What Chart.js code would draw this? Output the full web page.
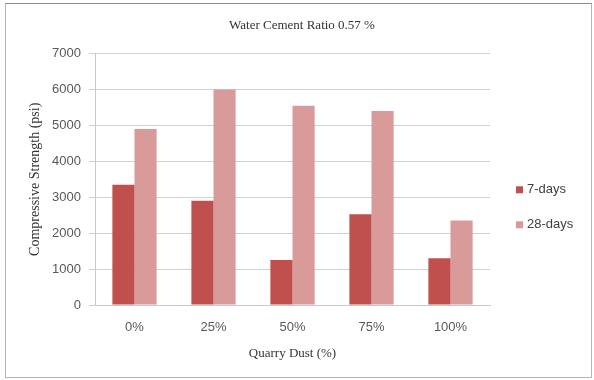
<!DOCTYPE html>
<html>
<head>
<meta charset="utf-8">
<script src="https://cdn.jsdelivr.net/npm/chart.js@4/dist/chart.umd.min.js"></script>
<style>
  html, body { margin: 0; padding: 0; background: #ffffff; }
  #wrap { position: relative; width: 594px; height: 380px; }
  #frame {
    position: absolute; left: 5px; top: 3px; width: 587px; height: 375px;
    border: 1px solid #b4b4b4; border-top-color: #8c8c8c; box-sizing: border-box;
    pointer-events: none;
  }
  canvas { position: absolute; left: 0; top: 0; }
</style>
</head>
<body>
<div id="wrap">
  <canvas id="c" width="594" height="380"></canvas>
  <div id="frame"></div>
</div>
<script>
// Compressive strength of concrete vs. quarry dust replacement (w/c = 0.57)
const categories = ['0%', '25%', '50%', '75%', '100%'];
const sevenDays = [3350, 2900, 1250, 2530, 1300];
const twentyEightDays = [4900, 6000, 5550, 5400, 2350];
const seriesNames = ['7-days', '28-days'];
const yTicks = [0, 1000, 2000, 3000, 4000, 5000, 6000, 7000];

const tickFont = { family: '"Liberation Sans", Arial, sans-serif', size: 13 };
const serifFont = { family: '"Liberation Serif", "Times New Roman", serif', size: 13 };

// Legend drawn to the right of the plot area
const sideLegend = {
  id: 'sideLegend',
  afterDraw(chart) {
    const { ctx, chartArea } = chart;
    const x = chartArea.right + 26;
    const mid = (chartArea.top + chartArea.bottom) / 2 + 28;
    const gap = 35;
    chart.data.datasets.forEach((ds, i) => {
      const y = mid + (i - 0.5) * gap;
      ctx.save();
      ctx.fillStyle = ds.backgroundColor;
      ctx.fillRect(x, y - 3.5, 7, 7);
      ctx.fillStyle = '#404040';
      ctx.font = `${tickFont.size}px ${tickFont.family}`;
      ctx.textAlign = 'left';
      ctx.textBaseline = 'middle';
      ctx.fillText(ds.label, x + 11, y);
      ctx.restore();
    });
  }
};

new Chart(document.getElementById('c'), {
  type: 'bar',
  data: {
    labels: categories,
    datasets: [
      { label: seriesNames[0], data: sevenDays, backgroundColor: '#c0504d' },
      { label: seriesNames[1], data: twentyEightDays, backgroundColor: '#d99a9a' }
    ]
  },
  options: {
    responsive: false,
    animation: false,
    devicePixelRatio: 1,
    layout: { padding: { left: 10, right: 0, top: 0, bottom: 0 } },
    datasets: { bar: { categoryPercentage: 0.56, barPercentage: 1.0 } },
    plugins: {
      legend: { display: false },
      tooltip: { enabled: false },
      title: {
        display: true,
        text: 'Water Cement Ratio 0.57 %',
        color: '#333333',
        font: { family: serifFont.family, size: 13, weight: 'normal' },
        padding: { top: 18, bottom: 20 }
      }
    },
    scales: {
      x: {
        grid: { display: false, drawTicks: false },
        border: { display: true, color: '#c8c8c8', width: 1 },
        ticks: { color: '#595959', font: tickFont, padding: 15 },
        title: {
          display: true, text: 'Quarry Dust (%)', color: '#333333',
          font: serifFont, padding: { top: 0, bottom: 19 }
        },
        afterFit(scale) { scale.height = 75; }
      },
      y: {
        min: 0, max: 7000,
        afterBuildTicks(scale) { scale.ticks = yTicks.map(v => ({ value: v })); },
        grid: { color: '#d0d0d0', lineWidth: 1, drawTicks: true, tickLength: 6 },
        border: { display: true, color: '#c8c8c8', width: 1 },
        ticks: { color: '#595959', font: tickFont, padding: 8, callback: v => String(v) },
        title: {
          display: true, text: 'Compressive Strength (psi)', color: '#333333',
          font: { family: serifFont.family, size: 14 }, padding: { top: 17, bottom: 0 }
        },
        afterFit(scale) { scale.width = 85; }
      },
      side: {
        position: 'right',
        display: true,
        ticks: { display: false },
        grid: { display: false, drawTicks: false },
        border: { display: false },
        afterFit(scale) { scale.width = 104; }
      }
    }
  },
  plugins: [sideLegend]
});
</script>
</body>
</html>
